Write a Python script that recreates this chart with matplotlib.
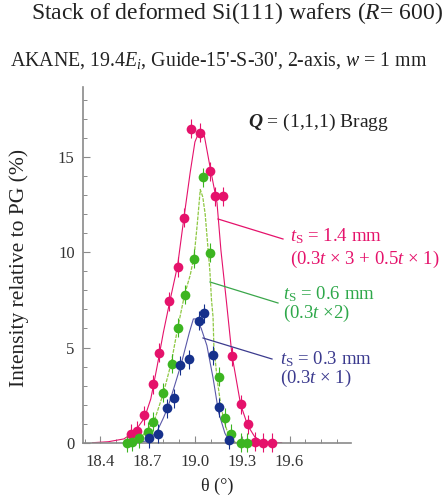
import matplotlib
matplotlib.use("Agg")
import matplotlib.pyplot as plt
from matplotlib.ticker import MultipleLocator
from matplotlib.lines import Line2D

plt.rcParams.update({
    "font.family": "Liberation Serif",
    "mathtext.fontset": "custom",
    "mathtext.rm": "Liberation Serif",
    "mathtext.it": "Liberation Serif:italic",
    "mathtext.bf": "Liberation Serif:italic:bold",
})

PINK = "#e5126b"
GREEN = "#3cb521"
GREEN_LINE = "#8fc843"
GREEN_TEXT = "#2ea84a"
BLUE = "#16318c"
BLUE_TEXT = "#3b3a8e"
SPINE = "#8a8a8a"

# ---- measured points --------------------------------------------------------
pink_x = [18.597, 18.633, 18.679, 18.736, 18.774, 18.833, 18.890, 18.933, 18.977,
          19.034, 19.098, 19.129, 19.176, 19.235, 19.290, 19.334, 19.380, 19.430, 19.492]
pink_y = [0.46, 0.62, 1.45, 3.08, 4.72, 7.44, 9.23, 11.82, 16.49,
          16.28, 14.25, 12.95, 12.95, 4.55, 2.03, 0.98, 0.05, 0.0, 0.0]

green_x = [18.569, 18.600, 18.643, 18.702, 18.734, 18.795, 18.852, 18.890, 18.935,
           18.992, 19.051, 19.098, 19.150, 19.190, 19.230, 19.290, 19.330]
green_y = [0.0, 0.05, 0.23, 0.58, 1.10, 2.62, 4.16, 6.03, 7.78,
           9.67, 13.95, 9.98, 3.46, 1.30, 0.46, 0.0, 0.0]

blue_x = [18.706, 18.766, 18.823, 18.865, 18.907, 18.965, 19.023, 19.060,
          19.115, 19.154, 19.214]
blue_y = [0.23, 0.46, 1.80, 2.33, 4.07, 4.39, 6.40, 6.79,
          4.60, 1.86, 0.16]

# ---- fitted curves (traced) -------------------------------------------------
pink_fx = [18.35, 18.45, 18.55, 18.62, 18.68, 18.72, 18.76, 18.80, 18.84, 18.89,
           18.93, 18.97, 19.00, 19.03, 19.06, 19.10, 19.14, 19.165, 19.20, 19.235,
           19.29, 19.335, 19.38, 19.43, 19.55]
pink_fy = [0.0, 0.05, 0.2, 0.6, 1.3, 2.3, 4.0, 5.8, 7.4, 9.3,
           11.8, 14.2, 15.8, 16.4, 16.1, 14.3, 12.6, 10.1, 7.4, 4.6,
           2.0, 0.9, 0.3, 0.05, 0.0]

green_fx = [18.55, 18.60, 18.66, 18.74, 18.80, 18.85, 18.89, 18.935, 18.97, 18.995,
            19.015, 19.034, 19.05, 19.065, 19.08, 19.095, 19.105, 19.115, 19.12,
            19.14, 19.16, 19.18, 19.21, 19.25, 19.30]
green_fy = [0.0, 0.05, 0.3, 1.1, 2.6, 4.2, 6.0, 7.8, 8.8, 9.8,
            11.5, 13.3, 12.9, 12.0, 10.5, 9.0, 7.5, 6.6, 5.1,
            3.4, 2.2, 1.3, 0.45, 0.05, 0.0]

blue_fx = [18.62, 18.70, 18.76, 18.80, 18.83, 18.86, 18.886, 18.915, 18.94, 18.965,
           18.99, 19.01, 19.04, 19.076, 19.115, 19.15, 19.19, 19.22, 19.26]
blue_fy = [0.0, 0.1, 0.6, 1.3, 1.9, 2.7, 3.4, 4.2, 5.0, 5.8,
           6.5, 6.5, 6.0, 5.1, 3.4, 1.6, 0.5, 0.05, 0.0]

x_ticks = [18.4, 18.7, 19.0, 19.3, 19.6]
y_ticks = [0, 5, 10, 15]

W, H = 443, 503
fig = plt.figure(figsize=(W / 100, H / 100), dpi=100)
ax = fig.add_axes([83 / W, 1 - 442.7 / H, 268 / W, 356 / H])


def px(x, y):
    return x / W, 1 - y / H


ax.plot(pink_fx, pink_fy, color=PINK, lw=0.8, zorder=2)
ax.plot(green_fx, green_fy, color=GREEN_LINE, lw=0.9, ls=(0, (3, 1)), zorder=2)
ax.plot(blue_fx, blue_fy, color="#5a58a8", lw=0.8, zorder=2)

for xs, ys, c in [(pink_x, pink_y, PINK), (green_x, green_y, GREEN), (blue_x, blue_y, BLUE)]:
    ax.errorbar(xs, ys, yerr=0.5, fmt="o", color=c, ms=7, mec="none",
                elinewidth=0.8, capsize=0, zorder=3, clip_on=False)

ax.set_xlim(18.29, 19.99)
ax.set_ylim(0, 18.7)
ax.set_xticks(x_ticks)
ax.set_xticklabels([f"{v:.1f}" for v in x_ticks])
ax.set_yticks(y_ticks)
ax.xaxis.set_minor_locator(MultipleLocator(0.1))
ax.yaxis.set_minor_locator(MultipleLocator(1))
ax.tick_params(which="both", direction="in", colors=SPINE, labelcolor="#333333",
               labelsize=12)
ax.tick_params(which="major", length=5, width=0.8)
ax.tick_params(which="minor", length=3, width=0.7)
ax.tick_params(axis="x", pad=8)
ax.tick_params(axis="y", pad=6)
for s in ("top", "right"):
    ax.spines[s].set_visible(False)
for s in ("left", "bottom"):
    ax.spines[s].set_color(SPINE)
    ax.spines[s].set_linewidth(1.2)

ax.set_xlabel("θ (°)", fontsize=13, color="#222222", labelpad=6)
fig.text(*px(19, 268), "Intensity relative to PG (%)", rotation=90,
         fontsize=15.5, color="#222222", ha="center", va="center")

fig.text(*px(237, 13), "Stack of deformed Si(111) wafers ($R$= 600)",
         fontsize=17, ha="center", va="center", color="#222222")
fig.text(*px(219, 61), "AKANE, 19.4$E_i$, Guide-15'-S-30', 2-axis, $w$ = 1 mm",
         fontsize=14.3, ha="center", va="center", color="#222222")

fig.text(*px(248, 122), r"$\mathbf{Q}$ = (1,1,1) Bragg", fontsize=14,
         ha="left", va="center", color="#222222")

# leader lines and labels
for (x0, y0, x1, y1), c in [((218, 219, 283, 239), PINK),
                            ((210, 282, 278, 303), "#3aa64a"),
                            ((203, 338, 272, 359), "#3b3a8e")]:
    fig.add_artist(Line2D([x0 / W, x1 / W], [1 - y0 / H, 1 - y1 / H],
                          color=c, lw=0.9, transform=fig.transFigure))

fig.text(*px(290, 248), "$t_\\mathrm{S}$ = 1.4 mm\n(0.3$t$ × 3 + 0.5$t$ × 1)",
         fontsize=13.5, color=PINK, ha="left", va="center", linespacing=1.15)
fig.text(*px(283, 304), "$t_\\mathrm{S}$ = 0.6 mm\n(0.3$t$ ×2)",
         fontsize=13.5, color=GREEN_TEXT, ha="left", va="center", linespacing=0.95)
fig.text(*px(280, 369), "$t_\\mathrm{S}$ = 0.3 mm\n(0.3$t$ × 1)",
         fontsize=13.5, color=BLUE_TEXT, ha="left", va="center", linespacing=0.95)

fig.savefig("out.png", dpi=100, facecolor="white")
